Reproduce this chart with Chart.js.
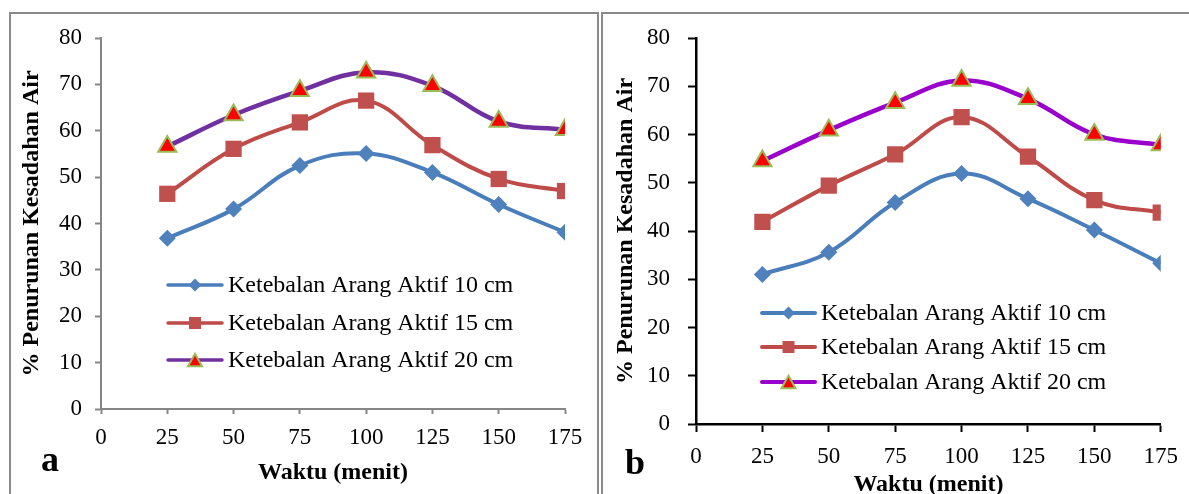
<!DOCTYPE html>
<html><head><meta charset="utf-8">
<script src="https://cdn.jsdelivr.net/npm/chart.js@4/dist/chart.umd.min.js"></script>
<style>
html,body{margin:0;padding:0;background:#fff;overflow:hidden;width:1189px;height:494px;}
#wrap{position:relative;width:1189px;height:494px;overflow:hidden;background:#fff;}
.frame{position:absolute;border:2px solid #8a8a8a;border-bottom:none;}
canvas{position:absolute;}
.tag{position:absolute;font-family:'Liberation Serif','Times New Roman',serif;font-weight:bold;font-size:36px;line-height:1;color:#000;}
</style></head><body>
<div id="wrap">
<div class="frame" style="left:9px;top:12px;width:586px;height:490px;"></div>
<div class="frame" style="left:601px;top:12px;width:600px;height:490px;border-right:none"></div>
<canvas id="ca" width="598" height="494" style="left:0;top:0"></canvas>
<canvas id="cb" width="589" height="510" style="left:600px;top:0"></canvas>
<div class="tag" style="left:41px;top:441px">a</div>
<div class="tag" style="left:625px;top:444px">b</div>
</div>
<script>
// ---- data ----
const minutes = [25, 50, 75, 100, 125, 150, 175];
const seriesLabels = ['Ketebalan Arang Aktif 10 cm', 'Ketebalan Arang Aktif 15 cm', 'Ketebalan Arang Aktif 20 cm'];
const aThick10 = [36.8, 43.1, 52.5, 55.1, 51.0, 44.1, 38.1];
const aThick15 = [46.4, 56.1, 61.8, 66.5, 56.9, 49.6, 47.0];
const aThick20 = [56.6, 63.4, 68.6, 72.6, 69.7, 62.0, 60.2];
const bThick10 = [31.0, 35.6, 45.9, 51.9, 46.7, 40.2, 33.3];
const bThick15 = [41.9, 49.4, 55.9, 63.6, 55.4, 46.4, 43.8];
const bThick20 = [54.5, 60.9, 66.6, 71.2, 67.4, 60.0, 57.8];
const xTitle = 'Waktu (menit)';
const yTitle = '% Penurunan Kesadahan Air';

const FAM = "'Liberation Serif','Times New Roman',serif";

function pts(vals){ return minutes.map((m,i)=>({x:m, y:vals[i]})); }

function drawMarker(ctx, style, x, y, size, fill, stroke, bw){
  ctx.save();
  ctx.fillStyle = fill; ctx.strokeStyle = stroke; ctx.lineWidth = bw || 0;
  ctx.beginPath();
  if (style === 'rectRot'){
    const r = size/2;
    ctx.moveTo(x, y-r); ctx.lineTo(x+r, y); ctx.lineTo(x, y+r); ctx.lineTo(x-r, y); ctx.closePath();
  } else if (style === 'rect'){
    ctx.rect(x-size/2, y-size/2, size, size);
  } else {
    const w = size, h = size*0.9;
    ctx.moveTo(x, y-h/2); ctx.lineTo(x+w/2, y+h/2); ctx.lineTo(x-w/2, y+h/2); ctx.closePath();
  }
  ctx.fill();
  if (bw) ctx.stroke();
  ctx.restore();
}

const insideLegend = {
  id: 'insideLegend',
  afterDatasetsDraw(chart, args, opts){
    const ctx = chart.ctx;
    chart.data.datasets.forEach((ds, i) => {
      const y = opts.rows[i];
      ctx.save();
      ctx.strokeStyle = ds.borderColor; ctx.lineWidth = opts.lineWidth; ctx.lineCap = 'round';
      ctx.beginPath(); ctx.moveTo(opts.x1, y); ctx.lineTo(opts.x2, y); ctx.stroke();
      drawMarker(ctx, ds.pointStyle, (opts.x1+opts.x2)/2, y, opts.sizes[i], ds.pointBackgroundColor, ds.pointBorderColor, ds.pointBorderWidth);
      ctx.fillStyle = '#000'; ctx.font = opts.font; ctx.textBaseline = 'middle'; ctx.textAlign = 'left';
      ctx.fillText(ds.label, opts.textX, y + 1);
      ctx.restore();
    });
  }
};

function makeChart(id, vals, p){
  const ds = [
    {label: seriesLabels[0], data: pts(vals[0]), borderColor: '#4A7EBB', borderWidth: 4,
     pointStyle: 'rectRot', pointRadius: 8.5, pointBackgroundColor: '#4F81BD', pointBorderColor: '#4F81BD', pointBorderWidth: 0},
    {label: seriesLabels[1], data: pts(vals[1]), borderColor: '#BE4B48', borderWidth: 4,
     pointStyle: 'rect', pointRadius: 11.5, pointBackgroundColor: '#C0504D', pointBorderColor: '#C0504D', pointBorderWidth: 0},
    {label: seriesLabels[2], data: pts(vals[2]), borderColor: p.purple, borderWidth: 4.5,
     pointStyle: 'triangle', pointRadius: 10.5, pointBackgroundColor: '#FF0000', pointBorderColor: '#9BBB59', pointBorderWidth: 2}
  ];
  ds.forEach(d => { d.tension = 0.4; d.fill = false; d.pointHoverRadius = d.pointRadius; });
  return new Chart(document.getElementById(id), {
    type: 'line',
    data: {datasets: ds},
    options: {
      responsive: false, animation: false, events: [],
      layout: {padding: {top: 38, right: p.right, bottom: 0, left: 0}},
      plugins: {
        legend: {display: false}, tooltip: {enabled: false},
        insideLegend: p.legend
      },
      scales: {
        x: {
          type: 'linear', min: 0, max: 175,
          ticks: {stepSize: 25, color: '#000', font: {family: FAM, size: 23}, padding: p.xPad, maxRotation: 0},
          grid: {drawOnChartArea: false, drawTicks: true, tickLength: p.xTick, color: p.axis, tickWidth: 2},
          border: {color: p.axis, width: p.axisW},
          title: {display: true, text: xTitle, color: '#000', font: {family: FAM, size: 24, weight: 'bold'}, padding: {top: 0, bottom: p.xTitlePad}},
          afterFit: s => { s.height = p.xH; }
        },
        y: {
          min: 0, max: 80,
          ticks: {stepSize: 10, color: '#000', font: {family: FAM, size: 23}, padding: p.yPad},
          grid: {drawOnChartArea: false, drawTicks: true, tickLength: p.yTick, color: p.axis, tickWidth: 2},
          border: {color: p.axis, width: p.axisW},
          title: {display: true, text: yTitle, color: '#000', font: {family: FAM, size: 24, weight: 'bold'}, padding: {top: p.yTitlePad, bottom: 0}},
          afterFit: s => { s.width = p.yW; }
        }
      }
    },
    plugins: [insideLegend]
  });
}

makeChart('ca', [aThick10, aThick15, aThick20], {
  purple: '#7030A0', right: 33, axis: '#868686', axisW: 2,
  xPad: 10, xTick: 5, xTitlePad: 7, xH: 85,
  yPad: 13, yTick: 6, yTitlePad: 17, yW: 101,
  legend: {x1: 168, x2: 222, textX: 228, rows: [285, 323, 360], lineWidth: 3.5, sizes: [13, 12, 14],
           font: "24px 'Liberation Serif','Times New Roman',serif"}
});
makeChart('cb', [bThick10, bThick15, bThick20], {
  purple: '#9900CC', right: 21, axis: '#000000', axisW: 2.5,
  xPad: 11, xTick: 8, xTitlePad: 11, xH: 86,
  yPad: 18, yTick: 8, yTitlePad: 11, yW: 96,
  legend: {x1: 162, x2: 215, textX: 221, rows: [313, 347, 382], lineWidth: 4, sizes: [13, 12, 14],
           font: "24px 'Liberation Serif','Times New Roman',serif"}
});
</script>
</body></html>
